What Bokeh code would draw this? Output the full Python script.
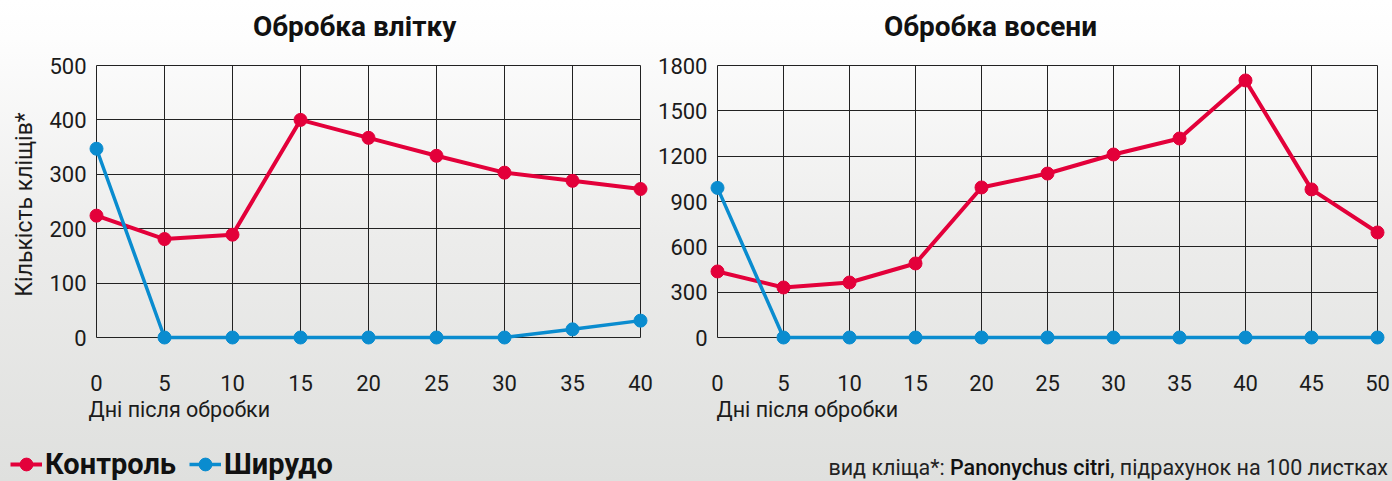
from bokeh.plotting import figure
from bokeh.models import Range1d, FixedTicker, Legend, LegendItem, Title, Div
from bokeh.layouts import row, column
from bokeh.embed import file_html
from bokeh.resources import INLINE

# ---------------- data ----------------
summer_days = [0, 5, 10, 15, 20, 25, 30, 35, 40]
summer_control = [224, 181, 189, 400, 367, 334, 303, 288, 273]
summer_shirudo = [347, 0, 0, 0, 0, 0, 0, 15, 31]
summer_yticks = [0, 100, 200, 300, 400, 500]

autumn_days = [0, 5, 10, 15, 20, 25, 30, 35, 40, 45, 50]
autumn_control = [437, 331, 364, 490, 993, 1085, 1211, 1317, 1701, 980, 695]
autumn_shirudo = [990, 0, 0, 0, 0, 0, 0, 0, 0, 0, 0]
autumn_yticks = [0, 300, 600, 900, 1200, 1500, 1800]

title_summer = "Обробка влітку"
title_autumn = "Обробка восени"
x_label = "Дні після обробки"
y_label = "Кількість кліщів*"
series_names = ["Контроль", "Ширудо"]
note_parts = ["вид кліща*: ", "Panonychus citri", ", підрахунок на 100 листках"]

RED = "#e3003a"
BLUE = "#0a8ccf"
INK = "#1b1b1b"
GRID = "#222222"
FONT = "Roboto"

# ---------------- geometry (page pixels) ----------------
TITLE_H = 50
FRAME_TOP = 63
DATA_TOP = 65
DATA_BOTTOM = 337
FRAME_BOTTOM = 345
PADX = 8
FIG_BOTTOM = 430
PAGE_W = 1392
PAGE_H = 481


def make_panel(days, control, shirudo, yticks, x0_page, x1_page, fig_left_page,
               border_right, xlabel_left, ylabel=None):
    xmax = days[-1]
    ymax = yticks[-1]
    ppux = (x1_page - x0_page) / xmax
    ppuy = (DATA_BOTTOM - DATA_TOP) / ymax
    frame_left = x0_page - PADX
    frame_w = (x1_page - x0_page) + 2 * PADX
    frame_h = FRAME_BOTTOM - FRAME_TOP
    p = figure(
        frame_width=frame_w, frame_height=frame_h,
        min_border_left=frame_left - fig_left_page,
        min_border_right=border_right,
        min_border_top=FRAME_TOP - TITLE_H,
        min_border_bottom=FIG_BOTTOM - FRAME_BOTTOM,
        x_range=Range1d(-PADX / ppux, xmax + PADX / ppux),
        y_range=Range1d(-(FRAME_BOTTOM - DATA_BOTTOM) / ppuy,
                        ymax + (DATA_TOP - FRAME_TOP) / ppuy),
        output_backend="svg", toolbar_location=None, title=None,
    )
    p.background_fill_color = None
    p.border_fill_color = None
    p.outline_line_color = None

    # grid
    p.xgrid.ticker = FixedTicker(ticks=days)
    p.ygrid.ticker = FixedTicker(ticks=yticks)
    for g in (p.xgrid[0], p.ygrid[0]):
        g.grid_line_color = GRID
        g.grid_line_width = 1
        g.grid_line_alpha = 1
    p.xgrid[0].cross_bounds = (0, ymax)
    p.ygrid[0].cross_bounds = (0, xmax)

    # axes
    p.xaxis.ticker = FixedTicker(ticks=days)
    p.yaxis.ticker = FixedTicker(ticks=yticks)
    for ax in (p.xaxis[0], p.yaxis[0]):
        ax.axis_line_color = None
        ax.major_tick_line_color = None
        ax.minor_tick_line_color = None
        ax.major_label_text_font = FONT
        ax.major_label_text_font_size = "22px"
        ax.major_label_text_color = INK
    p.xaxis.major_label_standoff = 23
    p.yaxis.major_label_standoff = -4
    if ylabel:
        p.yaxis.axis_label = ylabel
        p.yaxis.axis_label_text_font = FONT
        p.yaxis.axis_label_text_font_style = "normal"
        p.yaxis.axis_label_text_font_size = "23px"
        p.yaxis.axis_label_text_color = INK
        p.yaxis.axis_label_standoff = 8

    # series
    p.line(days, control, line_color=RED, line_width=4)
    p.scatter(days, control, size=13, fill_color=RED, line_color=RED)
    p.line(days, shirudo, line_color=BLUE, line_width=3.5)
    p.scatter(days, shirudo, size=13, fill_color=BLUE, line_color=BLUE)

    # x-axis caption (below)
    p.add_layout(Title(text=x_label, align="left", offset=xlabel_left - frame_left,
                       standoff=2, text_font=FONT, text_font_style="normal",
                       text_font_size="21.5px", text_color=INK), "below")
    return p


p1 = make_panel(summer_days, summer_control, summer_shirudo, summer_yticks,
                96, 640, 0, 6, 88, ylabel=y_label)
p2 = make_panel(autumn_days, autumn_control, autumn_shirudo, autumn_yticks,
                717, 1377, 654, 7, 716)

# ---------------- titles row ----------------
def title_span(text, left):
    return ('<span style="position: absolute; left: %dpx; top: 13px; font-family: Roboto, sans-serif; '
            'font-weight: bold; font-size: 28px; line-height: 1; color: #111111; white-space: nowrap;">%s</span>'
            % (left, text))

titles_html = ('<div style="position: relative; width: %dpx; height: %dpx;">' % (PAGE_W, TITLE_H)
               + title_span(title_summer, 253) + title_span(title_autumn, 884) + '</div>')
titles = Div(text=titles_html, width=PAGE_W, height=TITLE_H, margin=0)

# ---------------- bottom strip: legend + note ----------------
STRIP_H = PAGE_H - FIG_BOTTOM
LEG_W = 700
NAN = float("nan")
p3 = figure(width=LEG_W, height=STRIP_H, min_border=0,
            x_axis_type=None, y_axis_type=None,
            x_range=Range1d(0, 1), y_range=Range1d(0, 1),
            output_backend="svg", toolbar_location=None, title=None)
p3.background_fill_color = None
p3.border_fill_color = None
p3.outline_line_color = None
p3.grid.visible = False
# legend keys only (no visible data in this strip)
lr = p3.line([NAN], [NAN], line_color=RED, line_width=4)
sr = p3.scatter([NAN], [NAN], size=13, fill_color=RED, line_color=RED)
lb = p3.line([NAN], [NAN], line_color=BLUE, line_width=3.5)
sb = p3.scatter([NAN], [NAN], size=13, fill_color=BLUE, line_color=BLUE)
legend = Legend(
    items=[LegendItem(label=series_names[0], renderers=[lr, sr]),
           LegendItem(label=series_names[1], renderers=[lb, sb])],
    location=(10, 0), orientation="horizontal",
    glyph_width=32, glyph_height=32, label_standoff=3, spacing=13,
    padding=0, margin=0, border_line_color=None, background_fill_color=None,
    label_text_font=FONT, label_text_font_style="bold", label_text_font_size="29px",
    label_text_color="#111111", label_text_baseline="middle",
)
p3.add_layout(legend, "center")

NOTE_W = PAGE_W - LEG_W
note_html = (
    '<div style="box-sizing: border-box; width: %dpx; font-family: Roboto, sans-serif; '
    'font-size: 21.5px; color: #222222; text-align: right; padding-top: 27px; '
    'padding-right: 4px; line-height: 1; white-space: nowrap;">' % NOTE_W
    + note_parts[0]
    + '<span style="font-weight: 500; color: #111111;">' + note_parts[1] + '</span>'
    + note_parts[2] + '</div>'
)
note = Div(text=note_html, width=NOTE_W, height=STRIP_H, margin=0)

layout = column(titles, row(p1, p2), row(p3, note), styles={
    "background": "linear-gradient(to bottom, #ffffff 0%, #fdfdfd 8%, #ececeb 50%, #dfe0de 100%)"})

open("out.html", "w").write(file_html(layout, INLINE))
